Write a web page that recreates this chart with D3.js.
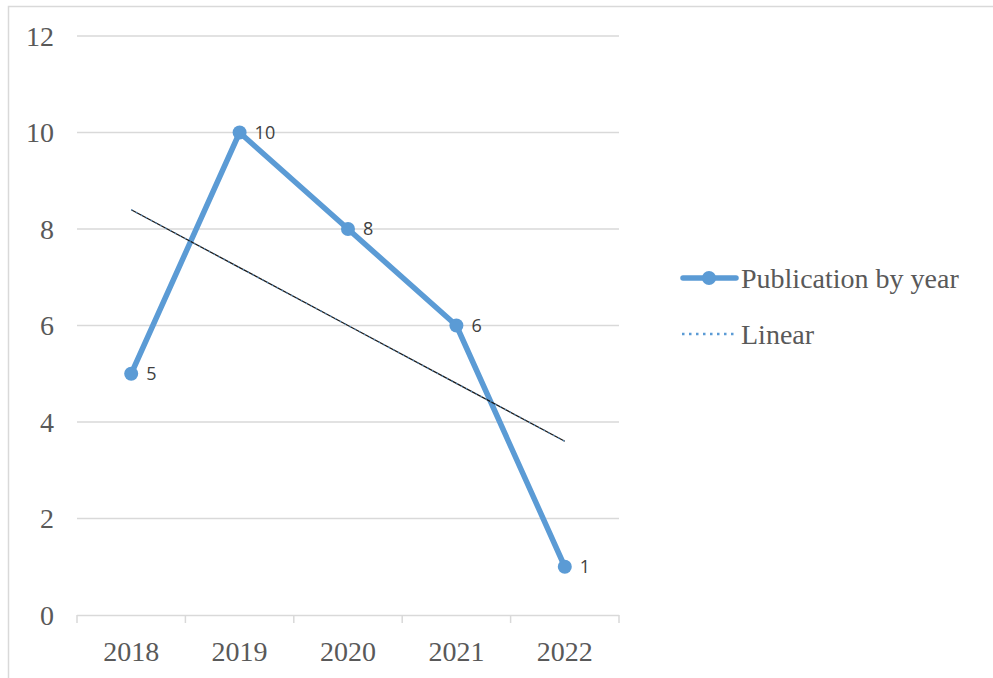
<!DOCTYPE html>
<html><head><meta charset="utf-8">
<script src="https://cdn.jsdelivr.net/npm/d3@7"></script>
<style>body{margin:0;background:#fff}svg{display:block}.serif{font-family:"Liberation Serif","Times New Roman",Times,serif}</style>
</head><body>
<script>
const years = ["2018","2019","2020","2021","2022"];
const publications = [5,10,8,6,1];
const linearTrend = [8.4,7.2,6.0,4.8,3.6];
const yTicks = [0,2,4,6,8,10,12];
const seriesName = "Publication by year";
const trendName = "Linear";

const W=993,H=678;
const svg=d3.select("body").append("svg").attr("width",W).attr("height",H);
svg.append("rect").attr("x",8.5).attr("y",6.5).attr("width",W+20).attr("height",H+20)
  .attr("fill","none").attr("stroke","#d9d9d9").attr("stroke-width",1.5);

const x=d3.scaleBand().domain(years).range([77,619]);
const y=d3.scaleLinear().domain([0,12]).range([615,36]);
const cx=d=>x(d)+x.bandwidth()/2;

svg.append("g").selectAll("line").data(yTicks.filter(t=>t>0)).join("line")
  .attr("x1",77).attr("x2",619).attr("y1",d=>y(d)).attr("y2",d=>y(d))
  .attr("stroke","#d9d9d9").attr("stroke-width",1.5);

svg.append("g").selectAll("text").data(yTicks).join("text").attr("class","serif")
  .attr("x",54).attr("y",d=>y(d)).attr("dy","0.35em").attr("text-anchor","end")
  .attr("font-size",28).attr("fill","#595959")
  .text(d=>d);

const xa=svg.append("g").attr("transform","translate(0,615)")
  .call(d3.axisBottom(x).tickSize(0).tickSizeOuter(0).tickPadding(0));
xa.select(".domain").remove();
xa.attr("font-family",null);
xa.selectAll("text").attr("class","serif").attr("y",36).attr("dy","0.35em")
  .attr("font-size",28).attr("fill","#595959");
svg.append("line").attr("x1",77).attr("x2",619).attr("y1",615.5).attr("y2",615.5)
  .attr("stroke","#d9d9d9").attr("stroke-width",1.5);
const bounds=[...years.map(d=>x(d)),x(years[years.length-1])+x.bandwidth()];
svg.append("g").selectAll("line").data(bounds).join("line")
  .attr("x1",d=>d).attr("x2",d=>d).attr("y1",615).attr("y2",623)
  .attr("stroke","#d9d9d9").attr("stroke-width",1.5);

const line=d3.line().x((d,i)=>cx(years[i])).y(d=>y(d));
svg.append("path").datum(publications).attr("d",line).attr("fill","none")
  .attr("stroke","#5b9bd5").attr("stroke-width",5.5).attr("stroke-linejoin","round").attr("stroke-linecap","round");
svg.append("g").selectAll("circle").data(publications).join("circle")
  .attr("cx",(d,i)=>cx(years[i])).attr("cy",d=>y(d)).attr("r",7).attr("fill","#5b9bd5");

svg.append("path").datum(linearTrend).attr("d",line).attr("fill","none")
  .attr("stroke","#1a1a1a").attr("stroke-width",1.3);
svg.append("path").datum(linearTrend).attr("d",line).attr("fill","none")
  .attr("stroke","#5b9bd5").attr("stroke-width",1.5).attr("stroke-dasharray","1.5,4").attr("opacity",0.8);

svg.append("g").selectAll("text").data(publications).join("text")
  .attr("x",(d,i)=>cx(years[i])+15).attr("y",d=>y(d)).attr("dy","0.35em")
  .attr("font-family","Open Sans, sans-serif").attr("font-size",18).attr("fill","#404040")
  .text(d=>d);

const lg=svg.append("g");
lg.append("line").attr("x1",683).attr("x2",736).attr("y1",278).attr("y2",278)
  .attr("stroke","#5b9bd5").attr("stroke-width",5.5).attr("stroke-linecap","round");
lg.append("circle").attr("cx",709).attr("cy",278).attr("r",7).attr("fill","#5b9bd5");
lg.append("text").attr("class","serif").attr("x",741).attr("y",278).attr("dy","0.35em")
  .attr("font-size",28).attr("fill","#595959").text(seriesName);
lg.append("line").attr("x1",682).attr("x2",734).attr("y1",334).attr("y2",334)
  .attr("stroke","#5b9bd5").attr("stroke-width",2.5).attr("stroke-dasharray","2.5,4.5");
lg.append("text").attr("class","serif").attr("x",741).attr("y",334).attr("dy","0.35em")
  .attr("font-size",28).attr("fill","#595959").text(trendName);
</script>
</body></html>
